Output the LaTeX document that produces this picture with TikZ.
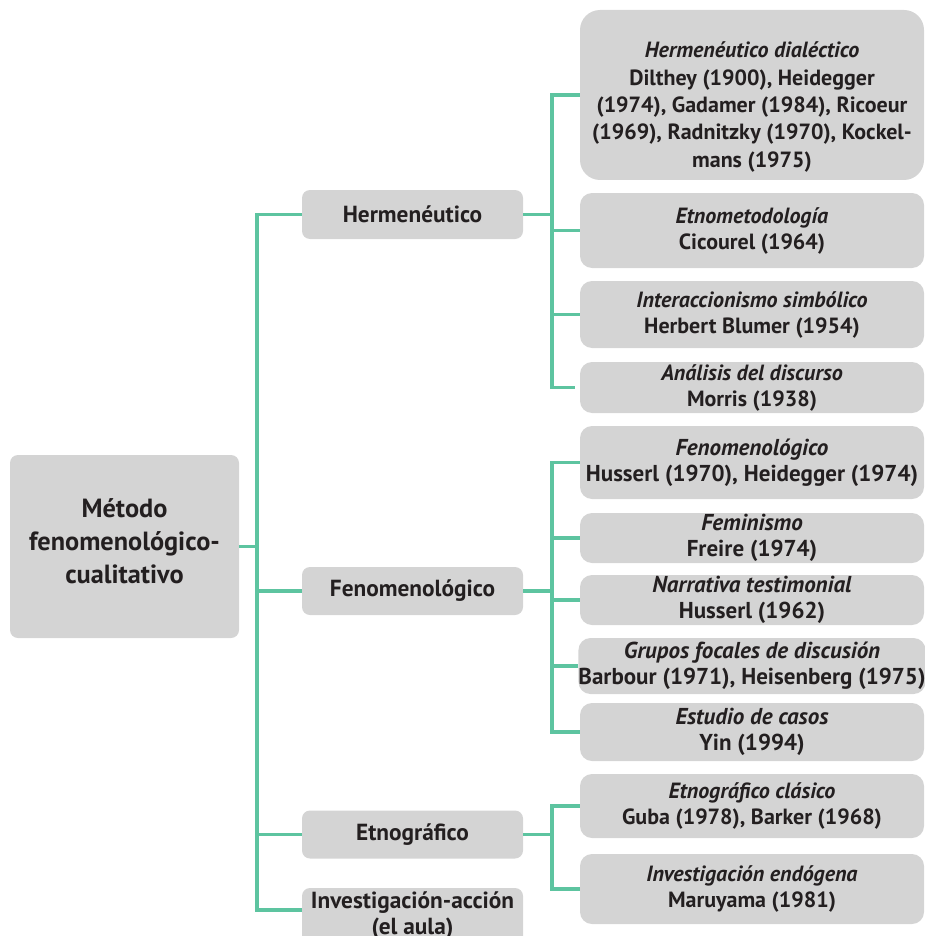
\documentclass[tikz,border=0pt]{standalone}
\usepackage{fontspec}
\setmainfont{PT Sans}
\definecolor{boxgray}{HTML}{D4D4D4}
\definecolor{linegreen}{HTML}{5DC4A0}
\definecolor{txt}{HTML}{231F20}
\begin{document}
\begin{tikzpicture}[x=1pt,y=-1pt,
  box/.style={fill=boxgray,draw=none,rounded corners=#1,inner sep=0pt,align=center,text=txt,font=\bfseries},
  box/.default=10pt,
  mainbox/.style={box=8pt,minimum width=229pt,minimum height=183pt},
  midbox/.style={box=8pt,minimum width=221pt,font=\fontsize{23.3}{25}\selectfont\bfseries},
  leafbox/.style={box=12pt,minimum width=344pt,font=\fontsize{22}{26}\selectfont\bfseries},
  lowleaf/.style={leafbox,font=\fontsize{23}{26}\selectfont\bfseries},
  txtnode/.style={inner sep=0pt,align=center,text=txt},
  conn/.style={draw=linegreen,line width=3.2pt}]
\useasboundingbox (0,0) rectangle (925,936);
\clip (0,0) rectangle (925,936);
% main
\node[mainbox] (main) at (124.5,546.5) {};
\node[txtnode,font=\fontsize{26.3}{33}\selectfont\bfseries] (maint) at (124.5,541) {Método\\fenomenológico-\\cualitativo};
% level 2
\node[midbox,minimum height=49pt] (herm) at (412.5,214.5) {Hermenéutico};
\node[midbox,minimum height=48pt] (feno) at (412.5,591) {Fenomenológico};
\node[midbox,minimum height=48pt] (etno) at (412.5,834.5) {Etnográfico};
\node[midbox,minimum height=62pt] (inv) at (412.5,919) {};
\node[txtnode,font=\fontsize{23.3}{26}\selectfont\bfseries] (invt) at (412.5,916) {Investigación-acción\\(el aula)};
% Hermeneutico children
\node[leafbox,box=20pt,minimum height=170pt] (hd) at (752,95) {};
\node[txtnode,font=\fontsize{22}{27.3}\selectfont\bfseries] (hdt) at (752,107) {\textit{Hermenéutico dialéctico}\\Dilthey (1900), Heidegger\\(1974), Gadamer (1984), Ricoeur\\(1969), Radnitzky (1970), Kockel-\\mans (1975)};
\node[leafbox,minimum height=75pt] (et) at (752,230.5) {\textit{Etnometodología}\\Cicourel (1964)};
\node[leafbox,minimum height=67pt] (is) at (752,314.5) {\textit{Interaccionismo simbólico}\\Herbert Blumer (1954)};
\node[leafbox,minimum height=51pt] (ad) at (752,387.5) {\textit{Análisis del discurso}\\Morris (1938)};
% Fenomenologico children
\node[lowleaf,minimum height=73pt] (fe) at (752,462.5) {\textit{Fenomenológico}\\Husserl (1970), Heidegger (1974)};
\node[lowleaf,minimum height=50pt] (fm) at (752,538) {\textit{Feminismo}\\Freire (1974)};
\node[lowleaf,minimum height=50pt] (nt) at (752,600) {\textit{Narrativa testimonial}\\Husserl (1962)};
\node[lowleaf,minimum height=56pt] (gf) at (752,666) {\textit{Grupos focales de discusión}\\Barbour (1971), Heisenberg (1975)};
\node[lowleaf,minimum height=58pt] (ec) at (752,732) {\textit{Estudio de casos}\\Yin (1994)};
% Etnografico children
\node[leafbox,minimum height=64pt] (ecl) at (752,806) {\textit{Etnográfico clásico}\\Guba (1978), Barker (1968)};
\node[leafbox,minimum height=70pt] (ie) at (752,889) {\textit{Investigación endógena}\\Maruyama (1981)};
% junctions
\coordinate (mj) at (257,546.5);
\coordinate (hj) at (552,214.5);
\coordinate (fj) at (552,591);
\coordinate (ej) at (552,834.5);
% connectors
\draw[conn] (main.east) -- (mj);
\draw[conn] (mj) |- (herm.west);
\draw[conn] (mj) |- (feno.west);
\draw[conn] (mj) |- (etno.west);
\draw[conn] (mj) |- (inv.west |- 0,910);
\draw[conn] (herm.east) -- (hj);
\draw[conn] (hj) |- (hd.west);
\draw[conn] (hj) |- (et.west);
\draw[conn] (hj) |- (is.west);
\draw[conn] (hj) |- ([xshift=-5pt]ad.west);
\draw[conn] (feno.east) -- (fj);
\draw[conn] (fj) |- (fe.west);
\draw[conn] (fj) |- (fm.west);
\draw[conn] (fj) |- (nt.west);
\draw[conn] (fj) |- (gf.west);
\draw[conn] (fj) |- (ec.west);
\draw[conn] (etno.east) -- (ej);
\draw[conn] (ej) |- (ecl.west);
\draw[conn] (ej) |- (ie.west);
\end{tikzpicture}
\end{document}
